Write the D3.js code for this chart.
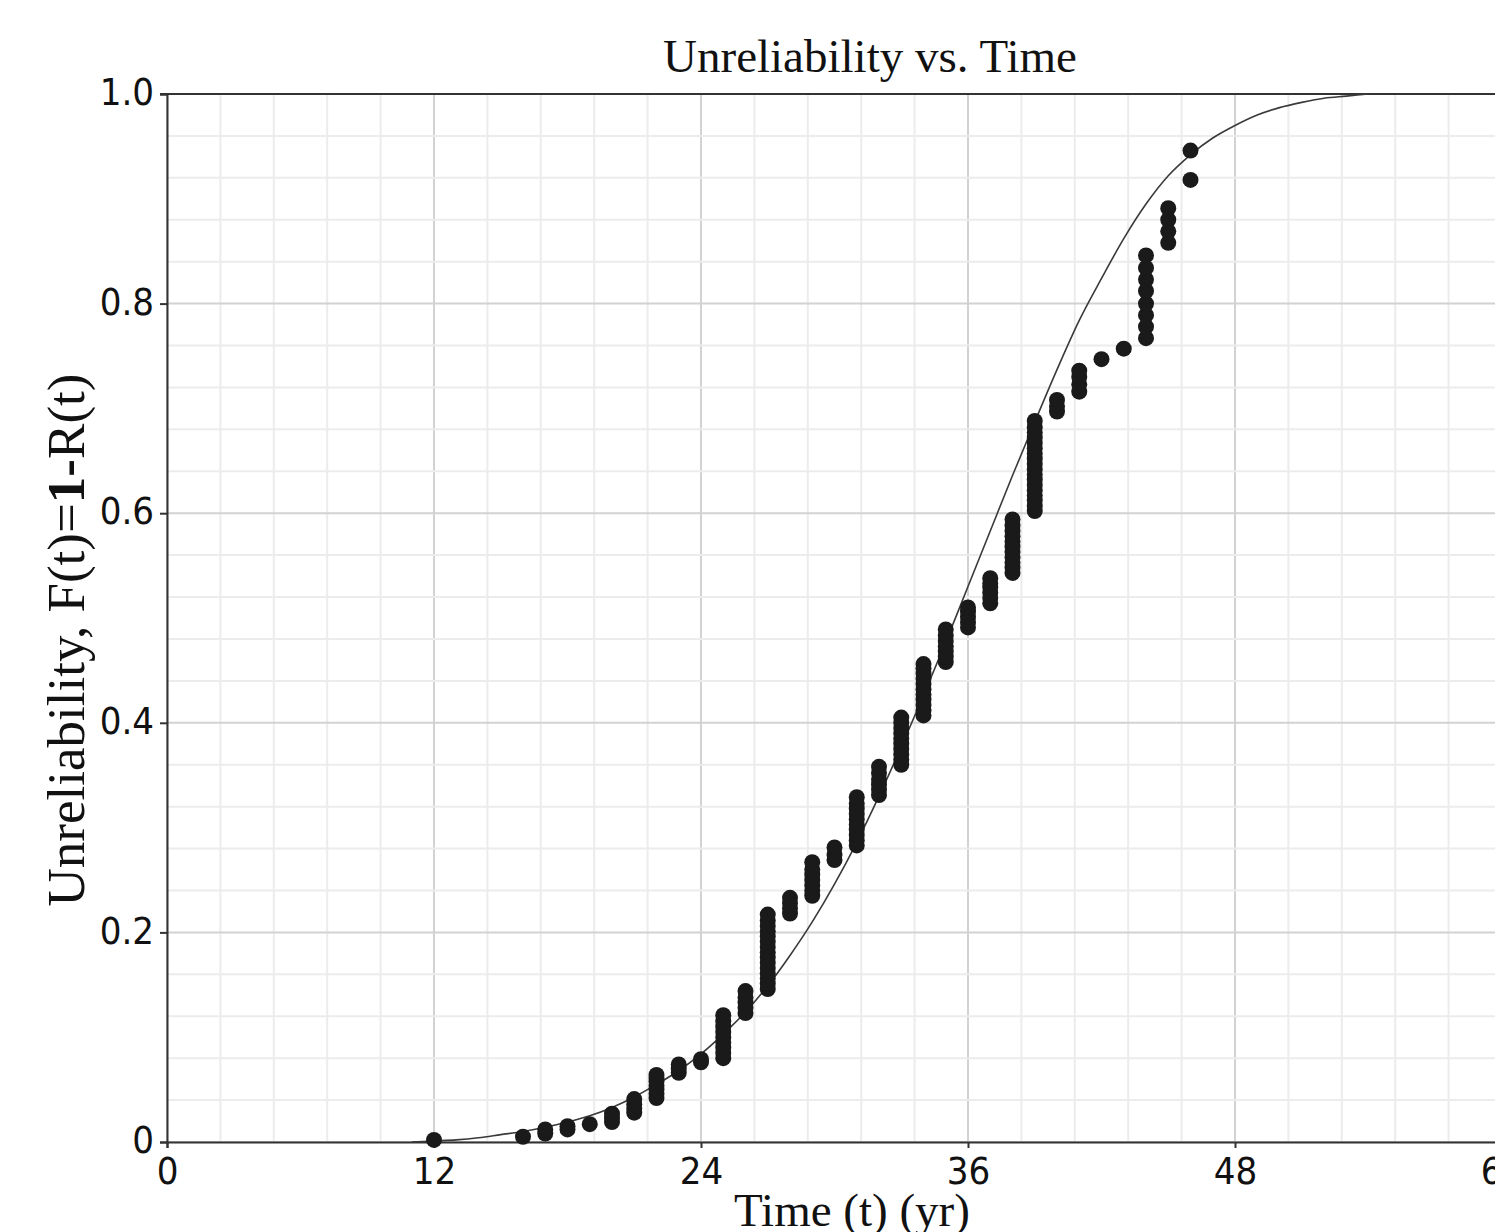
<!DOCTYPE html>
<html>
<head>
<meta charset="utf-8">
<script src="https://cdn.jsdelivr.net/npm/d3@7"></script>
<style>
  html, body { margin: 0; padding: 0; background: #fff; overflow: hidden; }
  svg { display: block; }
  .tick text { font-family: "DejaVu Sans Condensed", "DejaVu Sans", sans-serif; font-stretch: condensed; fill: #111; }
  .serif { font-family: "Liberation Serif", "Times New Roman", serif; fill: #111; }
</style>
</head>
<body>
<div id="chart"></div>
<script>
// failure times (yr) and the plotted unreliability values stacked at each time
var failureTimes = [12, 16, 17, 18, 19, 20, 21, 22, 23, 24, 25, 26, 27, 28, 29,
  30, 31, 32, 33, 34, 35, 36, 37, 38, 39, 40, 41, 42, 43, 44, 45, 46];
var failureRanks = [
  [0.002],
  [0.005],
  [0.008, 0.012],
  [0.012, 0.015],
  [0.017],
  [0.019, 0.023, 0.027],
  [0.028, 0.032, 0.036, 0.041],
  [0.042, 0.046, 0.050, 0.054, 0.058, 0.061, 0.064],
  [0.066, 0.070, 0.074],
  [0.076, 0.079],
  [0.080, 0.085, 0.090, 0.095, 0.100, 0.105, 0.110, 0.115, 0.121],
  [0.123, 0.128, 0.133, 0.138, 0.144],
  [0.146, 0.151, 0.156, 0.161, 0.166, 0.171, 0.176, 0.181, 0.186, 0.191, 0.196, 0.201, 0.206, 0.211, 0.217],
  [0.218, 0.223, 0.228, 0.233],
  [0.235, 0.240, 0.245, 0.250, 0.255, 0.260, 0.267],
  [0.269, 0.274, 0.281],
  [0.283, 0.288, 0.293, 0.298, 0.303, 0.308, 0.313, 0.318, 0.323, 0.329],
  [0.331, 0.336, 0.341, 0.346, 0.352, 0.358],
  [0.360, 0.365, 0.370, 0.375, 0.380, 0.385, 0.390, 0.395, 0.400, 0.405],
  [0.407, 0.412, 0.417, 0.422, 0.427, 0.432, 0.437, 0.442, 0.447, 0.452, 0.456],
  [0.458, 0.463, 0.468, 0.473, 0.478, 0.483, 0.489],
  [0.491, 0.496, 0.501, 0.506, 0.510],
  [0.514, 0.519, 0.524, 0.529, 0.533, 0.538],
  [0.543, 0.548, 0.553, 0.558, 0.563, 0.568, 0.573, 0.578, 0.583, 0.588, 0.594],
  [0.602, 0.607, 0.612, 0.617, 0.622, 0.627, 0.632, 0.637, 0.642, 0.647, 0.652, 0.657, 0.662, 0.667, 0.672, 0.677, 0.682, 0.688],
  [0.697, 0.702, 0.708],
  [0.716, 0.723, 0.730, 0.736],
  [0.747],
  [0.757],
  [0.767, 0.778, 0.789, 0.800, 0.812, 0.823, 0.834, 0.846],
  [0.858, 0.869, 0.880, 0.891],
  [0.918, 0.946]
];

// fitted unreliability line
var fitTimes = [11, 12, 13, 14, 15, 16, 17, 18, 19, 20, 21, 22, 23, 24, 25, 26, 27, 28, 29, 30,
  31, 32, 33, 34, 35, 36, 37, 38, 39, 40, 41, 42, 43, 44, 45, 46, 47, 48, 49, 50, 51, 52, 53, 54];
var fitUnreliability = [0, 0.001, 0.002, 0.004, 0.007, 0.010, 0.014, 0.019, 0.025, 0.033,
  0.043, 0.055, 0.068, 0.084, 0.103, 0.124, 0.149, 0.178, 0.210, 0.246,
  0.286, 0.330, 0.377, 0.426, 0.477, 0.530, 0.583, 0.636, 0.687, 0.737,
  0.784, 0.824, 0.862, 0.895, 0.922, 0.942, 0.958, 0.970, 0.980, 0.987,
  0.992, 0.996, 0.998, 1.0];

var xTicks = [0, 12, 24, 36, 48, 60];
var yTicks = [0, 0.2, 0.4, 0.6, 0.8, 1.0];

var width = 1495, height = 1232;
var margin = { top: 94, right: -7, bottom: 90, left: 167 };

var svg = d3.select("#chart").append("svg")
  .attr("width", width)
  .attr("height", height);

var x = d3.scaleLinear().domain([0, 60]).range([margin.left, width - margin.right]);
var y = d3.scaleLinear().domain([0, 1]).range([height - margin.bottom, margin.top]);

drawGrid();
drawAxes();
drawFit();
drawPoints();
drawTitles();

function drawGrid() {
  var g = svg.append("g").attr("class", "grid");
  var minorX = d3.range(0, 60.001, 2.4);
  var minorY = d3.range(0, 1.0001, 0.04);

  g.selectAll(".vminor").data(minorX).enter().append("line")
    .attr("x1", function (d) { return x(d); })
    .attr("x2", function (d) { return x(d); })
    .attr("y1", y(0)).attr("y2", y(1))
    .attr("stroke", function (d) { return Math.abs(d / 12 - Math.round(d / 12)) < 1e-6 ? "#d2d2d2" : "#ececec"; })
    .attr("stroke-width", 2);

  g.selectAll(".hminor").data(minorY).enter().append("line")
    .attr("x1", x(0)).attr("x2", x(60))
    .attr("y1", function (d) { return y(d); })
    .attr("y2", function (d) { return y(d); })
    .attr("stroke", function (d) { return Math.abs(d / 0.2 - Math.round(d / 0.2)) < 1e-6 ? "#d2d2d2" : "#ececec"; })
    .attr("stroke-width", 2);

  // top border
  svg.append("line")
    .attr("x1", x(0) - 7).attr("x2", x(60))
    .attr("y1", y(1)).attr("y2", y(1))
    .attr("stroke", "#333").attr("stroke-width", 2);
}

function drawAxes() {
  var yAxis = d3.axisLeft(y)
    .tickValues(yTicks)
    .tickSize(7)
    .tickPadding(6)
    .tickFormat(function (d) { return d === 0 ? "0" : d.toFixed(1); });

  var xAxis = d3.axisBottom(x)
    .tickValues(xTicks)
    .tickSize(6)
    .tickPadding(9)
    .tickFormat(d3.format("d"));

  var gy = svg.append("g")
    .attr("transform", "translate(" + x(0) + ",0)")
    .call(yAxis);
  var gx = svg.append("g")
    .attr("transform", "translate(0," + y(0) + ")")
    .call(xAxis);

  [gy, gx].forEach(function (g) {
    g.select(".domain").attr("stroke", "#333").attr("stroke-width", 2);
    g.selectAll(".tick line").attr("stroke", "#333").attr("stroke-width", 2);
    g.selectAll(".tick text").attr("font-size", 38);
  });
  gy.selectAll(".tick text").attr("dy", "0.28em");
}

function drawFit() {
  var data = fitTimes.map(function (t, i) { return [t, fitUnreliability[i]]; });
  var line = d3.line()
    .x(function (d) { return x(d[0]); })
    .y(function (d) { return y(d[1]); })
    .curve(d3.curveMonotoneX);

  svg.append("path")
    .datum(data)
    .attr("fill", "none")
    .attr("stroke", "#3a3a3a")
    .attr("stroke-width", 1.6)
    .attr("d", line);
}

function drawPoints() {
  var data = [];
  for (var i = 0; i < failureTimes.length; i++) {
    for (var j = 0; j < failureRanks[i].length; j++) {
      data.push({ t: failureTimes[i], f: failureRanks[i][j] });
    }
  }
  svg.append("g").selectAll("circle")
    .data(data)
    .enter().append("circle")
    .attr("cx", function (d) { return x(d.t); })
    .attr("cy", function (d) { return y(d.f); })
    .attr("r", 8)
    .attr("fill", "#1a1a1a");
}

function drawTitles() {
  svg.append("text")
    .attr("class", "serif")
    .attr("x", 870).attr("y", 72)
    .attr("text-anchor", "middle")
    .attr("font-size", 47)
    .text("Unreliability vs. Time");

  svg.append("text")
    .attr("class", "serif")
    .attr("x", 852).attr("y", 1226)
    .attr("text-anchor", "middle")
    .attr("font-size", 47)
    .text("Time (t) (yr)");

  var yl = svg.append("text")
    .attr("class", "serif")
    .attr("transform", "translate(84,640) rotate(-90)")
    .attr("text-anchor", "middle")
    .attr("font-size", 53);
  yl.append("tspan").text("Unreliability, F(t)=");
  yl.append("tspan").attr("font-weight", "bold").text("1-");
  yl.append("tspan").text("R(t)");
}
</script>
</body>
</html>
